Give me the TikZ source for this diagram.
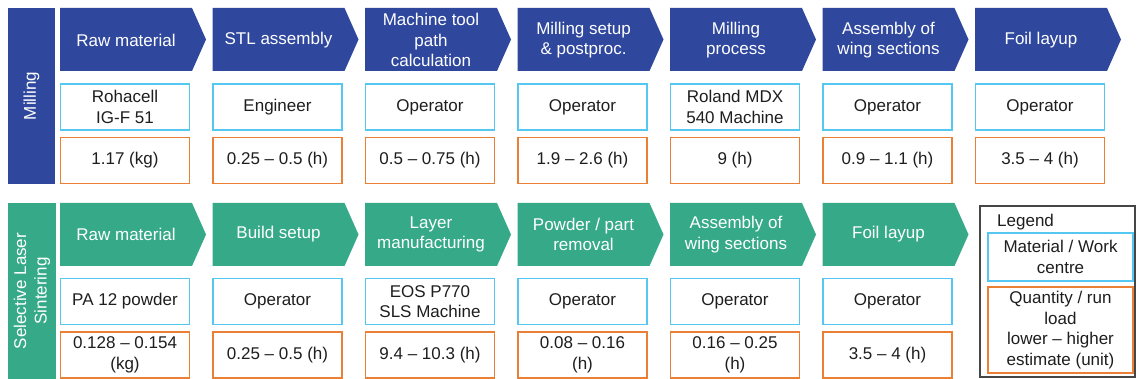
\documentclass[tikz,border=0pt]{standalone}
\usepackage{fontspec}
\setmainfont{Liberation Sans}
\definecolor{mblue}{RGB}{47,72,158}
\definecolor{sgreen}{RGB}{54,170,136}
\definecolor{lcyan}{RGB}{84,200,240}
\definecolor{lorange}{RGB}{234,128,54}
\definecolor{lgray}{RGB}{70,70,70}
\definecolor{txt}{RGB}{30,30,30}
\newcommand{\dfont}{\fontsize{17}{20.5}\selectfont}
\begin{document}
\begin{tikzpicture}[x=1pt,y=-1pt,
  ctext/.style={text=white, align=center, font=\dfont, inner sep=0},
  wbox/.style={draw=lcyan, line width=1.6pt, fill=white, minimum width=129pt, minimum height=46pt, align=center, inner sep=0, font=\dfont, text=txt},
  qbox/.style={draw=lorange, line width=1.6pt, fill=white, minimum width=129pt, minimum height=46pt, align=center, inner sep=0, font=\dfont, text=txt},
  sidetext/.style={text=white, font=\dfont, align=center, rotate=90, inner sep=0}]
\useasboundingbox (0,0) rectangle (1137,379);

% side labels
\fill[mblue] (8,8) rectangle (55,184);
\node[sidetext] (mlab) at (31.5,96) {Milling};
\fill[sgreen] (8,203) rectangle (56,379);
\node[sidetext] (slab) at (32,291) {Selective Laser\\Sintering};

% Milling row
\foreach \i/\t/\m/\q in {
  0/{Raw material}/{Rohacell\\IG-F 51}/{1.17 (kg)},
  1/{STL assembly}/{Engineer}/{0.25 -- 0.5 (h)},
  2/{Machine tool\\path\\calculation}/{Operator}/{0.5 -- 0.75 (h)},
  3/{Milling setup\\\& postproc.}/{Operator}/{1.9 -- 2.6 (h)},
  4/{Milling\\process}/{Roland MDX\\540 Machine}/{9 (h)},
  5/{Assembly of\\wing sections}/{Operator}/{0.9 -- 1.1 (h)},
  6/{Foil layup}/{Operator}/{3.5 -- 4 (h)}}{
  \pgfmathsetmacro{\xa}{60+152.5*\i}
  \fill[mblue] (\xa,8) -- ++(132,0) -- ++(14,31.5) -- ++(-14,31.5) -- ++(-132,0) -- cycle;
  \node[ctext] (mc\i) at (\xa+66,40) {\t};
  \node[wbox] (mw\i) at (\xa+65,107) {\m};
  \node[qbox] (mq\i) at (\xa+65,160.5) {\q};
}

% SLS row
\foreach \i/\t/\m/\q in {
  0/{Raw material}/{PA 12 powder}/{0.128 -- 0.154\\(kg)},
  1/{Build setup}/{Operator}/{0.25 -- 0.5 (h)},
  2/{Layer\\manufacturing}/{EOS P770\\SLS Machine}/{9.4 -- 10.3 (h)},
  3/{Powder / part\\removal}/{Operator}/{0.08 -- 0.16\\(h)},
  4/{Assembly of\\wing sections}/{Operator}/{0.16 -- 0.25\\(h)},
  5/{Foil layup}/{Operator}/{3.5 -- 4 (h)}}{
  \pgfmathsetmacro{\xa}{60+152.5*\i}
  \fill[sgreen] (\xa,203) -- ++(132,0) -- ++(14,31.5) -- ++(-14,31.5) -- ++(-132,0) -- cycle;
  \node[ctext] (sc\i) at (\xa+66,234.5) {\t};
  \node[wbox] (sw\i) at (\xa+65,301.5) {\m};
  \node[qbox] (sq\i) at (\xa+65,355) {\q};
}

% Legend
\node[draw=lgray, line width=1.2pt, minimum width=155pt, minimum height=171pt, inner sep=0] (leg) at (1057.5,291.5) {};
\node[font=\dfont, text=txt, anchor=west, inner sep=0] (legt) at (997,222) {Legend};
\node[wbox, minimum width=145pt, minimum height=48pt] (legw) at (1060.5,257) {Material / Work\\centre};
\node[qbox, minimum width=145pt, minimum height=86pt] (legq) at (1060.5,330) {Quantity / run\\load\\lower -- higher\\estimate (unit)};
\end{tikzpicture}
\end{document}
